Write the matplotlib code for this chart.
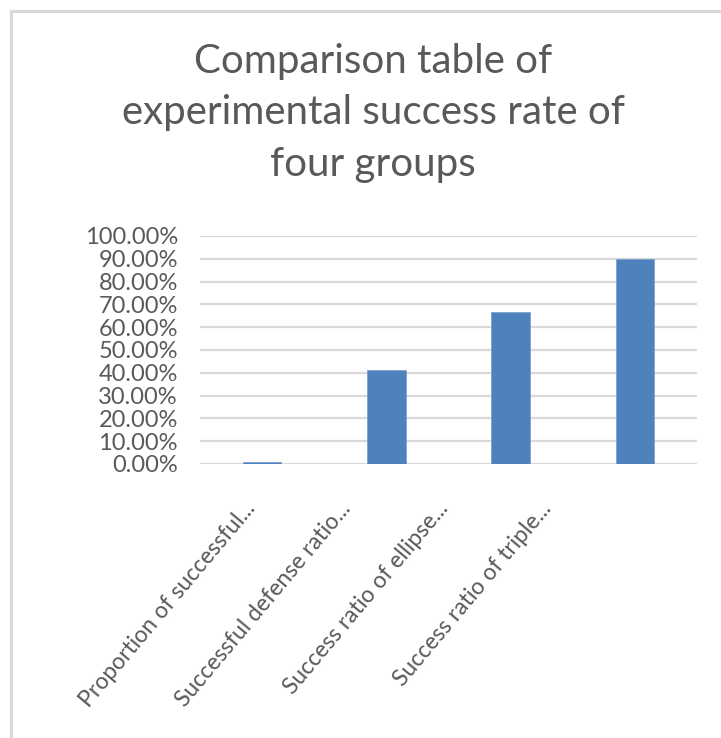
import matplotlib
matplotlib.use('Agg')
import matplotlib.pyplot as plt
import matplotlib.ticker as mticker
from matplotlib.lines import Line2D
from matplotlib.transforms import blended_transform_factory

# ── DATA ──────────────────────────────────────────────────────────────────────
TITLE = "Comparison table of\nexperimental success rate of\nfour groups"
CATEGORIES = [
    "Proportion of successful...",
    "Successful defense ratio...",
    "Success ratio of ellipse...",
    "Success ratio of triple...",
]
RATES = [0.01, 0.412, 0.668, 0.90]
Y_TICKS = [i / 10 for i in range(11)]

# label anchor offsets (Excel packs the rotated labels tighter than the bars)
LABEL_X = [-0.15, 0.62, 1.40, 2.23]

# ── STYLE ─────────────────────────────────────────────────────────────────────
FONT = ["Lato", "DejaVu Sans"]
TEXT_COLOR = "#595959"
BAR_COLOR = "#4f81bd"
GRID_COLOR = "#d9d9d9"

plt.rcParams['font.family'] = FONT

fig = plt.figure(figsize=(7.21, 7.38), dpi=100)
ax = fig.add_axes([200 / 721, 1 - 464 / 738, 497 / 721, 228 / 738])

x = range(len(CATEGORIES))
ax.bar(x, RATES, width=0.31, color=BAR_COLOR, edgecolor="#7da0cf",
       linewidth=0.6, zorder=3)

ax.set_xlim(-0.5, len(CATEGORIES) - 0.5)
ax.set_ylim(0, 1)
ax.set_yticks(Y_TICKS)
ax.yaxis.set_major_formatter(mticker.FuncFormatter(lambda v, _: f"{v * 100:.2f}%"))
ax.tick_params(axis="y", length=0, pad=16, labelsize=17, labelcolor=TEXT_COLOR)
ax.set_xticks([])
ax.grid(axis="y", color=GRID_COLOR, linewidth=1.6, zorder=0)
for s in ax.spines.values():
    s.set_visible(False)

trans = blended_transform_factory(ax.transData, ax.transAxes)
for lx, lab in zip(LABEL_X, CATEGORIES):
    ax.text(lx, -0.15, lab, transform=trans, rotation=50,
            rotation_mode="anchor", ha="right", va="top",
            fontsize=16.5, color=TEXT_COLOR)

fig.text(373 / 721, 1 - 43 / 738, TITLE, ha="center", va="top",
         fontsize=29, color=TEXT_COLOR, linespacing=1.48)

# chart frame edges visible in the screenshot (top and left)
fig.add_artist(Line2D([11 / 721, 1], [1 - 11 / 738] * 2,
                      transform=fig.transFigure, color=GRID_COLOR, lw=2.2))
fig.add_artist(Line2D([11 / 721] * 2, [0, 1 - 11 / 738],
                      transform=fig.transFigure, color=GRID_COLOR, lw=2.2))

fig.savefig("out.png", dpi=100)
